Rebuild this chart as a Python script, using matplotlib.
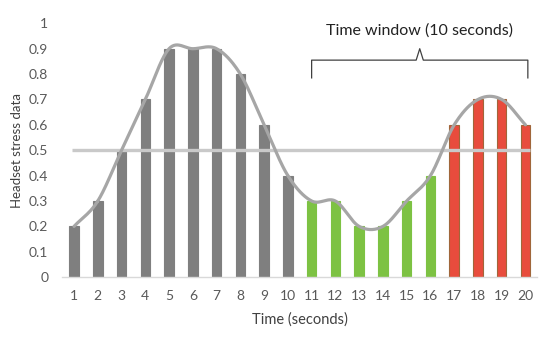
"""
Headset stress data per second with a smoothed trend and a 10 second window bracket.
"""
import numpy as np
import matplotlib
matplotlib.use("Agg")
import matplotlib.pyplot as plt

# -------------------- Data --------------------
seconds = list(range(1, 21))
stress = [0.2, 0.3, 0.5, 0.7, 0.9, 0.9, 0.9, 0.8, 0.6, 0.4,
          0.3, 0.3, 0.2, 0.2, 0.3, 0.4,
          0.6, 0.7, 0.7, 0.6]
phase = ["pre"] * 10 + ["low"] * 6 + ["high"] * 4
threshold = 0.5
window_start, window_end = 11, 20
window_label = "Time window (10 seconds)"

# -------------------- Style --------------------
plt.rcParams["font.family"] = ["Lato", "DejaVu Sans"]
TXT = "#595959"
fills = {"pre": "#7f7f7f", "low": "#7dc243", "high": "#e84c3d"}
edges = {"pre": "#7f7f7f", "low": "#7dc243", "high": "#a0663a"}


def smooth_curve(x, y, n=30):
    # Catmull-Rom path through the points, like a spreadsheet "smoothed line"
    x = np.asarray(x, float)
    y = np.asarray(y, float)
    px = np.concatenate([[2 * x[0] - x[1]], x, [2 * x[-1] - x[-2]]])
    py = np.concatenate([[2 * y[0] - y[1]], y, [2 * y[-1] - y[-2]]])
    xs, ys = [], []
    t = np.linspace(0, 1, n)
    for i in range(1, len(px) - 2):
        for p, out in ((px, xs), (py, ys)):
            p0, p1, p2, p3 = p[i - 1], p[i], p[i + 1], p[i + 2]
            out.extend(0.5 * ((2 * p1) + (-p0 + p2) * t
                              + (2 * p0 - 5 * p1 + 4 * p2 - p3) * t ** 2
                              + (-p0 + 3 * p1 - 3 * p2 + p3) * t ** 3))
    return np.array(xs), np.array(ys)


fig = plt.figure(figsize=(5.5, 3.38), dpi=100)
ax = fig.add_axes([0.113, 0.180, 0.864, 0.751])

ax.bar(seconds, stress, width=0.4,
       color=[fills[p] for p in phase],
       edgecolor=[edges[p] for p in phase], linewidth=0.8, zorder=2)

ax.plot([0.9, 20.2], [threshold, threshold], color="#c9c9c9", lw=2.4, zorder=3,
        solid_capstyle="butt")

sx, sy = smooth_curve(seconds, stress)
ax.plot(sx, sy, color="#a6a6a6", lw=2.3, zorder=4, solid_capstyle="round")

# bracket over the time window
mid = (window_start + window_end + 0.1) / 2
bx = [window_start, window_start, mid - 0.15, mid, mid + 0.15, window_end + 0.1, window_end + 0.1]
by = [0.785, 0.855, 0.855, 0.9, 0.855, 0.855, 0.785]
ax.plot(bx, by, color="#404040", lw=0.9, zorder=5)
ax.text(mid, 0.97, window_label, ha="center", va="center", fontsize=11.5, color="#222222")

ax.set_xlim(0.5, 20.5)
ax.set_ylim(0, 1)
ax.set_xticks(seconds)
ax.set_yticks(np.arange(0, 1.01, 0.1))
ax.set_yticklabels(["0"] + [f"{v:.1f}" for v in np.arange(0.1, 0.95, 0.1)] + ["1"])
ax.tick_params(axis="both", length=0, labelsize=10, colors=TXT)
ax.tick_params(axis="x", pad=9)
ax.tick_params(axis="y", pad=10)
for side in ("top", "right", "left"):
    ax.spines[side].set_visible(False)
ax.spines["bottom"].set_color("#d9d9d9")
ax.spines["bottom"].set_linewidth(1.0)

ax.set_xlabel("Time (seconds)", fontsize=10.5, color="#404040", labelpad=8)
ax.set_ylabel("Headset stress data", fontsize=9.5, color="#404040", labelpad=4)

plt.savefig("out.png", dpi=100)
